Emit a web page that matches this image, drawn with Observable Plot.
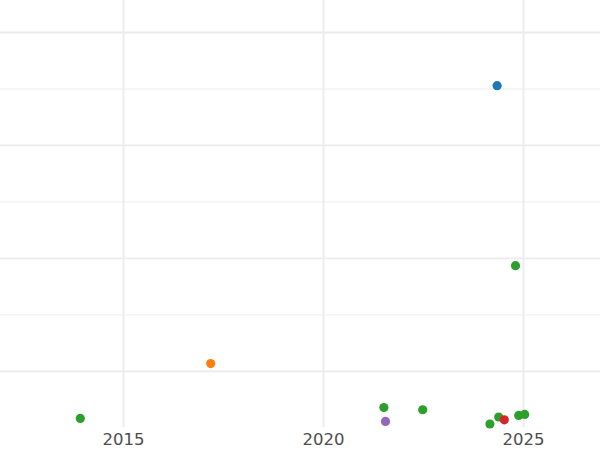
<!DOCTYPE html>
<html>
<head>
<meta charset="utf-8">
<script src="https://cdn.jsdelivr.net/npm/d3@7"></script>
<script src="https://cdn.jsdelivr.net/npm/@observablehq/plot@0.6"></script>
<style>
  html, body { margin: 0; padding: 0; background: #fff; }
</style>
</head>
<body>
<div id="chart"></div>
<script>
// Data
const years  = [2024.34, 2024.80, 2017.18, 2013.92, 2021.51, 2021.55, 2022.48, 2024.16, 2024.38, 2024.52, 2024.88, 2025.03];
const values = [352.9,   193.6,   107.0,   58.4,    68.1,    55.8,    66.1,    53.5,    59.7,    57.2,    61.1,    62.0];
const groups = ["A",     "C",     "B",     "C",     "C",     "E",     "C",     "C",     "C",     "D",     "C",     "C"];

const groupNames = ["A", "B", "C", "D", "E"];
const groupColors = ["#1f77b4", "#ff7f0e", "#2ca02c", "#d62728", "#9467bd"];

const xTicks = [2015, 2020, 2025];
const yMajor = [100, 200, 300, 400];
const yMinor = [150, 250, 350];

const data = years.map((x, i) => ({x, y: values[i], g: groups[i]}));

const chart = Plot.plot({
  width: 600,
  height: 450,
  marginLeft: 0,
  marginRight: 0,
  marginTop: 0,
  marginBottom: 23,
  style: {background: "#fff", fontFamily: "DejaVu Sans, sans-serif"},
  x: {domain: [2011.925, 2026.925], axis: null},
  y: {domain: [50.4, 428.3], axis: null},
  color: {domain: groupNames, range: groupColors},
  marks: [
    Plot.ruleY(yMinor, {stroke: "#ebebeb", strokeWidth: 0.9}),
    Plot.ruleY(yMajor, {stroke: "#ebebeb", strokeWidth: 1.8}),
    Plot.ruleX(xTicks, {stroke: "#ebebeb", strokeWidth: 1.8}),
    Plot.axisX(xTicks, {
      tickSize: 0,
      tickPadding: 6,
      tickFormat: d => String(d),
      fontSize: 16.5,
      fill: "#4d4d4d",
      label: null
    }),
    Plot.dot(data, {x: "x", y: "y", fill: "g", r: 4.6, stroke: null})
  ]
});
document.getElementById("chart").appendChild(chart);
</script>
</body>
</html>
